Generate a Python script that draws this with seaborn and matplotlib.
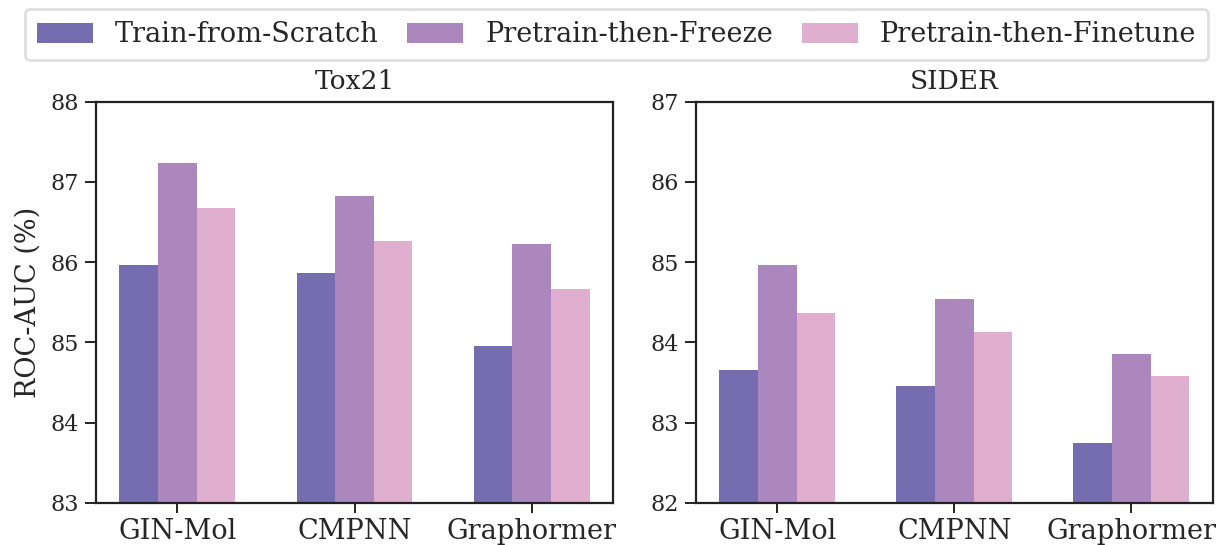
import matplotlib
matplotlib.use('Agg')
import matplotlib.pyplot as plt
from matplotlib.patches import Patch
import seaborn as sns
import pandas as pd

models = ['GIN-Mol', 'CMPNN', 'Graphormer']
settings = ['Train-from-Scratch', 'Pretrain-then-Freeze', 'Pretrain-then-Finetune']

tox21_scratch = [85.97, 85.87, 84.95]
tox21_freeze = [87.23, 86.83, 86.22]
tox21_finetune = [86.67, 86.26, 85.66]

sider_scratch = [83.65, 83.46, 82.74]
sider_freeze = [84.96, 84.54, 83.85]
sider_finetune = [84.37, 84.13, 83.58]

palette = ['#766cb0', '#ac87bd', '#e0afd0']


def make_df(scratch, freeze, finetune):
    rows = []
    for vals, s in zip([scratch, freeze, finetune], settings):
        for m, v in zip(models, vals):
            rows.append({'model': m, 'setting': s, 'auc': v})
    return pd.DataFrame(rows)


sns.set_style('ticks')
plt.rcParams['font.family'] = ['DejaVu Serif']
plt.rcParams['axes.linewidth'] = 1.6
plt.rcParams['axes.edgecolor'] = '#222222'

fig = plt.figure(figsize=(12.17, 5.45), dpi=100)
ax1 = fig.add_axes([96/1217, 42.3/545, 517/1217, 401/545])
ax2 = fig.add_axes([696/1217, 42.3/545, 516.7/1217, 401/545])

panels = [
    (ax1, make_df(tox21_scratch, tox21_freeze, tox21_finetune), 'Tox21', (83, 88)),
    (ax2, make_df(sider_scratch, sider_freeze, sider_finetune), 'SIDER', (82, 87)),
]

for ax, df, title, ylim in panels:
    sns.barplot(data=df, x='model', y='auc', hue='setting', hue_order=settings,
                palette=palette, saturation=1, width=0.655, ax=ax,
                legend=False, linewidth=0, errorbar=None)
    ax.set_xlim(-0.46, 2.46)
    ax.set_ylim(*ylim)
    ax.set_yticks(range(ylim[0], ylim[1] + 1))
    ax.set_title(title, fontsize=19, pad=9)
    ax.set_xlabel('')
    ax.set_ylabel('')
    ax.tick_params(axis='x', labelsize=19.5, length=7, width=1.4, color='#222222', pad=4)
    ax.tick_params(axis='y', labelsize=16, length=8, width=1.4, color='#222222', pad=4)
    for sp in ax.spines.values():
        sp.set_visible(True)

ax1.set_ylabel('ROC-AUC (%)', fontsize=19.5, labelpad=7)

handles = [Patch(facecolor=c, edgecolor='none') for c in palette]
leg = fig.legend(handles, settings, loc='upper center',
                 bbox_to_anchor=(0.5065, 0.9835),
                 ncol=3, fontsize=19.5, frameon=True, fancybox=True,
                 handlelength=2.07, handleheight=0.75, handletextpad=0.8,
                 columnspacing=1.07, borderaxespad=0, borderpad=0.45)
leg.get_frame().set_edgecolor('#d8d8d8')
leg.get_frame().set_linewidth(2)

fig.savefig('out.png', dpi=100)
